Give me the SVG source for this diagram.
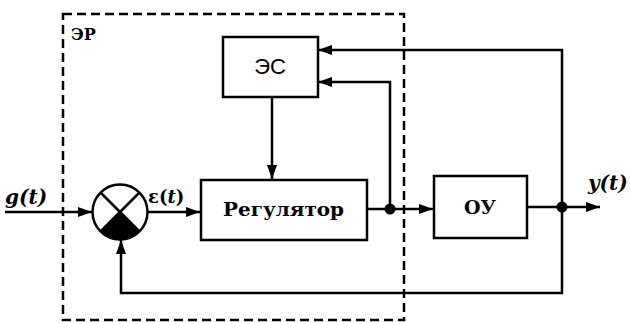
<svg xmlns="http://www.w3.org/2000/svg" width="630" height="322" viewBox="0 0 630 322">
<style>
.box{fill:#fff;stroke:#000;stroke-width:2.5}
.ln{fill:none;stroke:#000;stroke-width:2.5}
.dash{fill:none;stroke:#000;stroke-width:2.5;stroke-dasharray:9,5}
.sans{font-family:"Liberation Sans",Arial,sans-serif;fill:#000}
</style>
<defs>
<marker id="ah" viewBox="0 0 14 10" refX="14" refY="5" markerWidth="14" markerHeight="10" markerUnits="userSpaceOnUse" orient="auto">
<path d="M0,0 L14,5 L0,10 z" fill="#000"/>
</marker>
</defs>
<rect class="dash" x="63" y="14" width="341" height="306"/>
<text font-family="'DejaVu Serif', serif" x="71" y="40" font-size="16" font-weight="bold">ЭР</text>
<g id="connectors">
<line class="ln" x1="5" y1="212" x2="92" y2="212" marker-end="url(#ah)"/>
<line class="ln" x1="148" y1="212" x2="200" y2="212" marker-end="url(#ah)"/>
<line class="ln" x1="272" y1="97" x2="272" y2="179" marker-end="url(#ah)"/>
<line class="ln" x1="367" y1="209" x2="390" y2="209"/>
<line class="ln" x1="390" y1="209" x2="433" y2="209" marker-end="url(#ah)"/>
<polyline class="ln" points="390,209 390,82 318,82" marker-end="url(#ah)"/>
<line class="ln" x1="527" y1="207" x2="562" y2="207"/>
<line class="ln" x1="562" y1="207" x2="600" y2="207" marker-end="url(#ah)"/>
<polyline class="ln" points="562,207 562,50 318,50" marker-end="url(#ah)"/>
<polyline class="ln" points="562,207 562,293 121,293 121,240" marker-end="url(#ah)"/>
<circle cx="390" cy="209" r="5.5" fill="#000"/>
<circle cx="562" cy="207" r="5.5" fill="#000"/>
</g>
<g id="comparator">
<path d="M101,232 A28,28 0 0 0 139,232 L120,213 Z" fill="#000"/>
<circle cx="120" cy="212" r="27.5" fill="none" stroke="#000" stroke-width="2.5"/>
<line class="ln" x1="100.5" y1="192.5" x2="139.5" y2="231.5"/>
<line class="ln" x1="139.5" y1="192.5" x2="100.5" y2="231.5"/>
</g>
<g id="es">
<rect class="box" x="223" y="37" width="95" height="60"/>
<text class="sans" x="270" y="74" font-size="22" text-anchor="middle">ЭС</text>
</g>
<g id="regulator">
<rect class="box" x="201" y="180" width="166" height="60"/>
<text font-family="'DejaVu Serif', serif" x="223" y="216" font-size="19" font-weight="bold" textLength="121" lengthAdjust="spacingAndGlyphs">Регулятор</text>
</g>
<g id="ou">
<rect class="box" x="434" y="176" width="93" height="62"/>
<text font-family="'DejaVu Serif', serif" x="480" y="214" font-size="19" font-weight="bold" text-anchor="middle">ОУ</text>
</g>
<text font-family="'DejaVu Serif', serif" x="5" y="204" font-size="20" font-weight="bold" font-style="italic">g(t)</text>
<text font-family="'DejaVu Serif', serif" x="148" y="203" font-size="18" font-weight="bold">ε(<tspan font-style="italic">t</tspan>)</text>
<text font-family="'DejaVu Serif', serif" x="588" y="190" font-size="20" font-weight="bold" font-style="italic">y(t)</text>
</svg>
